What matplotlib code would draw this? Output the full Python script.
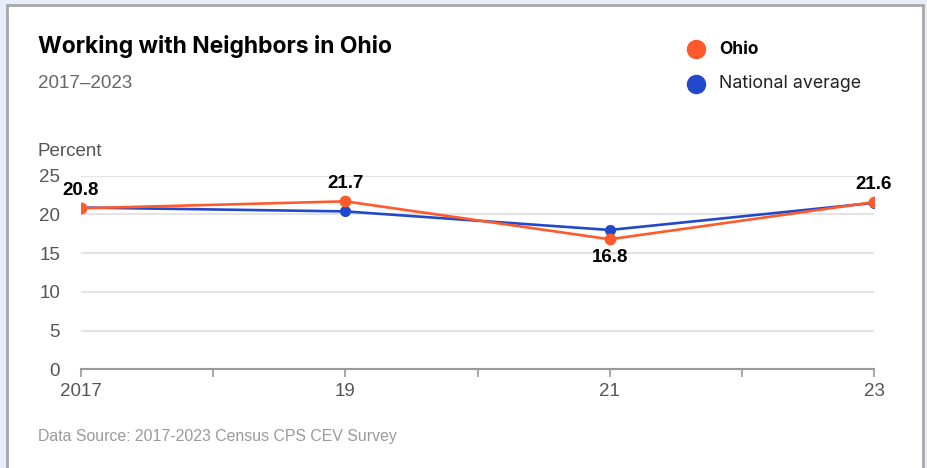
import matplotlib
matplotlib.use("Agg")
import matplotlib.pyplot as plt
from matplotlib.patches import Rectangle
from matplotlib.ticker import FixedLocator

years = [2017, 2019, 2021, 2023]
year_labels = ["2017", "19", "21", "23"]
ohio = [20.8, 21.7, 16.8, 21.6]
national = [20.9, 20.4, 18.0, 21.5]
yticks = [0, 5, 10, 15, 20, 25]

ORANGE = "#FF5A2B"
BLUE = "#2248CC"
W, H = 928, 468

fig = plt.figure(figsize=(W / 100, H / 100), dpi=100, facecolor="#E8EEF9")

def fx(px):
    return px / W

def fy(py):
    return 1 - py / H

# card
card = Rectangle((fx(7), fy(480)), fx(923) - fx(7), fy(5) - fy(480),
                 transform=fig.transFigure, facecolor="white",
                 edgecolor="#A8A8A8", linewidth=2, zorder=-5)
fig.patches.append(card)

ax = fig.add_axes([fx(81), fy(369.3), fx(874) - fx(81), fy(175.8) - fy(369.3)])
ax.set_facecolor("none")
ax.set_zorder(2)

ax.plot(years, national, color=BLUE, lw=1.9, marker="o", ms=7, zorder=3)
ax.plot(years, ohio, color=ORANGE, lw=1.9, marker="o", ms=7.5, zorder=4)

for x, v in zip(years, ohio):
    dy = -18 if x == 2021 else 18
    ax.annotate(f"{v:.1f}", (x, v), xytext=(0, dy), textcoords="offset pixels",
                ha="center", va="center", fontsize=13.5, fontweight="bold",
                family="Liberation Sans", color="black")

ax.set_xlim(2017, 2023)
ax.set_ylim(0, 25)
ax.set_xticks(years)
ax.set_xticklabels(year_labels)
ax.xaxis.set_minor_locator(FixedLocator([2018, 2020, 2022]))
ax.set_yticks(yticks)
ax.set_yticklabels([str(t) for t in yticks])

ax.grid(axis="y", color="#E3E3E3", lw=1.5)
ax.set_axisbelow(True)
for s in ["top", "right", "left"]:
    ax.spines[s].set_visible(False)
ax.spines["bottom"].set_color("#999999")
ax.spines["bottom"].set_linewidth(1.5)

ax.tick_params(axis="x", which="both", length=6, width=1.2, color="#999999",
               labelsize=13.5, labelcolor="#555555", pad=4)
ax.tick_params(axis="y", length=0, labelsize=13.5, labelcolor="#555555", pad=15)
for lab in ax.get_xticklabels() + ax.get_yticklabels():
    lab.set_family("Liberation Sans")

# texts
fig.text(fx(38), fy(46), "Working with Neighbors in Ohio", fontsize=16.5,
         fontweight="bold", family="Inter", color="black", va="center", ha="left")
fig.text(fx(38), fy(84), "2017\u20132023", fontsize=13.5, family="Liberation Sans",
         color="#666666", va="center", ha="left")
fig.text(fx(38), fy(151), "Percent", fontsize=13.5, family="Liberation Sans",
         color="#555555", va="center", ha="left")
fig.text(fx(38), fy(436), "Data Source: 2017-2023 Census CPS CEV Survey", fontsize=11.4,
         family="Liberation Sans", color="#9A9A9A", va="center", ha="left")

# legend
fig.lines.append(plt.Line2D([fx(696)], [fy(49)], transform=fig.transFigure,
                            marker="o", ms=13, color=ORANGE, lw=0))
fig.lines.append(plt.Line2D([fx(696)], [fy(84)], transform=fig.transFigure,
                            marker="o", ms=13, color=BLUE, lw=0))
fig.text(fx(719), fy(49), "Ohio", fontsize=12.5, fontweight="bold", family="Inter",
         color="black", va="center", ha="left")
fig.text(fx(719), fy(84), "National average", fontsize=12.8, family="Inter",
         color="#222222", va="center", ha="left")

fig.savefig("out.png", dpi=100, facecolor=fig.get_facecolor())
